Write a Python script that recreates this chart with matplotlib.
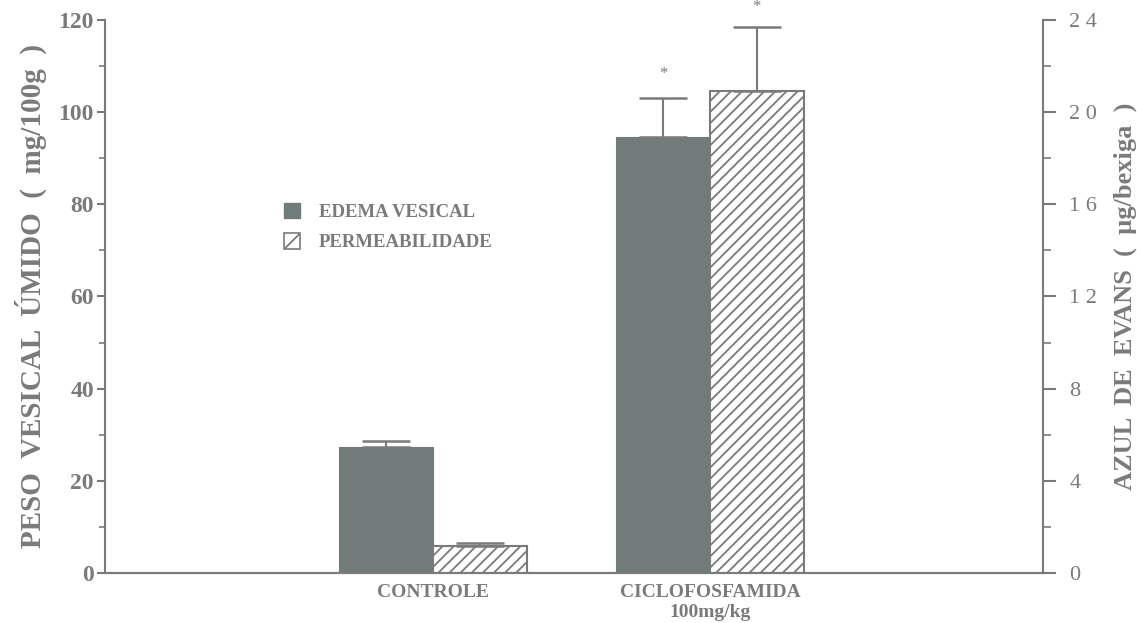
import numpy as np
import matplotlib.pyplot as plt
from matplotlib.patches import Patch
from matplotlib.ticker import MultipleLocator, FuncFormatter

# grupos e valores medios (+ erro padrao)
grupos = ["CONTROLE", "CICLOFOSFAMIDA\n100mg/kg"]
edema = [27.3, 94.6]          # mg/100g (eixo esquerdo)
edema_err = [1.3, 8.5]
permeab = [1.18, 20.9]        # ug/bexiga (eixo direito)
permeab_err = [0.12, 2.8]
sig_edema = ["", "*"]
sig_perm = ["", "*"]

cinza = "#7a7a7a"
barra = "#717b79"
plt.rcParams['font.family'] = ['Liberation Serif', 'DejaVu Serif']
plt.rcParams['hatch.linewidth'] = 1.3
plt.rcParams['hatch.color'] = cinza

fig = plt.figure(figsize=(11.37, 6.23), dpi=100)
ax = fig.add_axes([0.0923, 0.0803, 0.8250, 0.8876])
ax2 = ax.twinx()

xc = np.array([3.5, 6.45])
w = 1.0

ax.bar(xc - w / 2, edema, w, color=barra, edgecolor=barra, lw=0.8)
ax.errorbar(xc - w / 2, edema, yerr=[[0, 0], edema_err], fmt='none',
            ecolor=cinza, elinewidth=1.5, capsize=17, capthick=1.8)

ax2.bar(xc + w / 2, permeab, w, color="white", edgecolor=cinza, lw=1.5, hatch='///')
ax2.errorbar(xc + w / 2, permeab, yerr=[[0, 0], permeab_err], fmt='none',
             ecolor=cinza, elinewidth=1.5, capsize=17, capthick=1.8)

for x, v, e, s in zip(xc - w / 2, edema, edema_err, sig_edema):
    ax.text(x, v + e + 3.5, s, ha='center', va='bottom', color=cinza, fontsize=12)
for x, v, e, s in zip(xc + w / 2, permeab, permeab_err, sig_perm):
    ax2.text(x, v + e + 0.5, s, ha='center', va='bottom', color=cinza, fontsize=12,
             clip_on=False)

ax.set_xlim(0, 10)
ax.set_ylim(0, 120)
ax2.set_ylim(0, 24)

for a in (ax, ax2):
    a.spines['top'].set_visible(False)
    for s in a.spines.values():
        s.set_color(cinza)
        s.set_linewidth(1.5)
ax2.spines['left'].set_visible(False)
ax.spines['right'].set_visible(False)

ax.yaxis.set_major_locator(MultipleLocator(20))
ax.yaxis.set_minor_locator(MultipleLocator(10))
ax2.yaxis.set_major_locator(MultipleLocator(4))
ax2.yaxis.set_minor_locator(MultipleLocator(2))
ax2.yaxis.set_major_formatter(FuncFormatter(lambda v, p: " ".join(str(int(v)))))

ax.tick_params(axis='y', which='major', length=6, width=1.5, color=cinza,
               labelcolor=cinza, labelsize=17, pad=2)
ax.tick_params(axis='y', which='minor', length=4, width=1.2, color=cinza)
for lab in ax.get_yticklabels():
    lab.set_fontweight('bold')
ax2.tick_params(axis='y', which='major', length=9, width=1.5, color=cinza,
                labelcolor=cinza, labelsize=16, pad=10)
ax2.tick_params(axis='y', which='minor', length=6, width=1.2, color=cinza)

ax.set_xticks(xc)
ax.set_xticklabels(grupos)
ax.tick_params(axis='x', length=0, pad=8, labelcolor=cinza)
for lab in ax.get_xticklabels():
    lab.set_fontweight('bold')
    lab.set_fontsize(14)

ax.set_ylabel("PESO  VESICAL  ÚMIDO  (  mg/100g  )", color=cinza, fontsize=21,
              fontweight='bold', labelpad=8)
ax2.set_ylabel("AZUL  DE  EVANS  (  µg/bexiga  )", color=cinza, fontsize=19,
               fontweight='bold', labelpad=12)

handles = [Patch(facecolor=barra, edgecolor=barra, label="EDEMA VESICAL"),
           Patch(facecolor="white", edgecolor=cinza, hatch='//', lw=1.2,
                 label="PERMEABILIDADE")]
leg = ax.legend(handles=handles, loc='upper left', bbox_to_anchor=(0.173, 0.70),
                frameon=False, handlelength=0.85, handleheight=0.9,
                handletextpad=1.0, labelspacing=0.65,
                prop={'weight': 'bold', 'size': 13.5})
for t in leg.get_texts():
    t.set_color(cinza)

fig.savefig("out.png", dpi=100)
